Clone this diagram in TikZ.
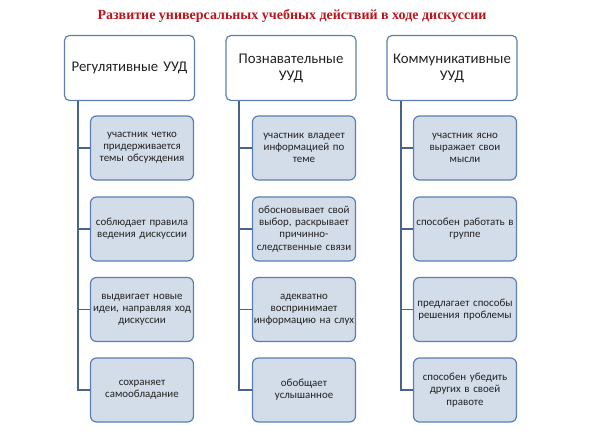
\documentclass[tikz,border=0pt]{standalone}
\usepackage{fontspec}
\setmainfont{Carlito}
\newfontfamily\titlefont{Liberation Serif}
\definecolor{titlered}{HTML}{B8161C}
\definecolor{hdrborder}{HTML}{5F80AC}
\definecolor{childfill}{HTML}{D3DCE9}
\definecolor{childborder}{HTML}{5A7FB2}
\definecolor{linecol}{HTML}{46648F}
\definecolor{txt}{HTML}{222222}
\tikzset{
  hdr/.style={draw=hdrborder, line width=1.2pt, fill=white, rounded corners=5pt,
    minimum width=130pt, minimum height=65pt, text width=128pt, align=center,
    font=\fontsize{14.8}{17}\selectfont, inner sep=0pt, text=txt},
  child/.style={draw=childborder, line width=1.2pt, fill=childfill, rounded corners=6pt,
    minimum width=103pt, minimum height=64pt, text width=103pt, align=center,
    font=\fontsize{10.9}{12.2}\selectfont, inner sep=0pt, text=txt},
  conn/.style={draw=linecol, line width=1.5pt},
}
\begin{document}
\begin{tikzpicture}[x=1pt,y=-1pt]
\useasboundingbox (0,0) rectangle (591,435);
\fill[white] (0,0) rectangle (591,435);
\node[font=\titlefont\bfseries\fontsize{14}{16}\selectfont, text=titlered] (title) at (292,16)
  {Развитие универсальных учебных действий в ходе дискуссии};
% headers
\node[hdr] (h1) at (129.5,68) {Регулятивные УУД};
\node[hdr] (h2) at (291,68) {Познавательные\\УУД};
\node[hdr] (h3) at (452,68) {Коммуникативные\\УУД};
% vertical line anchors
\coordinate (v1) at (78,100);
\coordinate (v2) at (239,100);
\coordinate (v3) at (401,100);
% children column 1
\node[child] (c11) at (142,148) {участник четко\\придерживается\\темы обсуждения};
\node[child] (c12) at (142,229) {соблюдает правила\\ведения дискуссии};
\node[child] (c13) at (142,309.5) {выдвигает новые\\идеи, направляя ход\\дискуссии};
\node[child] (c14) at (142,390) {сохраняет\\самообладание};
% column 2
\node[child] (c21) at (304,148) {участник владеет\\информацией по\\теме};
\node[child] (c22) at (304,229) {обосновывает свой\\выбор, раскрывает\\причинно-\\следственные связи};
\node[child] (c23) at (304,309.5) {адекватно\\воспринимает\\информацию на слух};
\node[child] (c24) at (304,390) {обобщает\\услышанное};
% column 3
\node[child] (c31) at (465,148) {участник ясно\\выражает свои\\мысли};
\node[child] (c32) at (465,229) {способен работать в\\группе};
\node[child] (c33) at (465,309.5) {предлагает способы\\решения проблемы};
\node[child] (c34) at (465,390) {способен убедить\\других в своей\\правоте};
% connectors
\foreach \i in {1,2,3}{
  \draw[conn] (h\i.south -| v\i) |- (c\i4.west);
  \foreach \j in {1,2,3}{
    \draw[conn] (v\i |- c\i\j.west) -- (c\i\j.west);
  }
}
\end{tikzpicture}
\end{document}
